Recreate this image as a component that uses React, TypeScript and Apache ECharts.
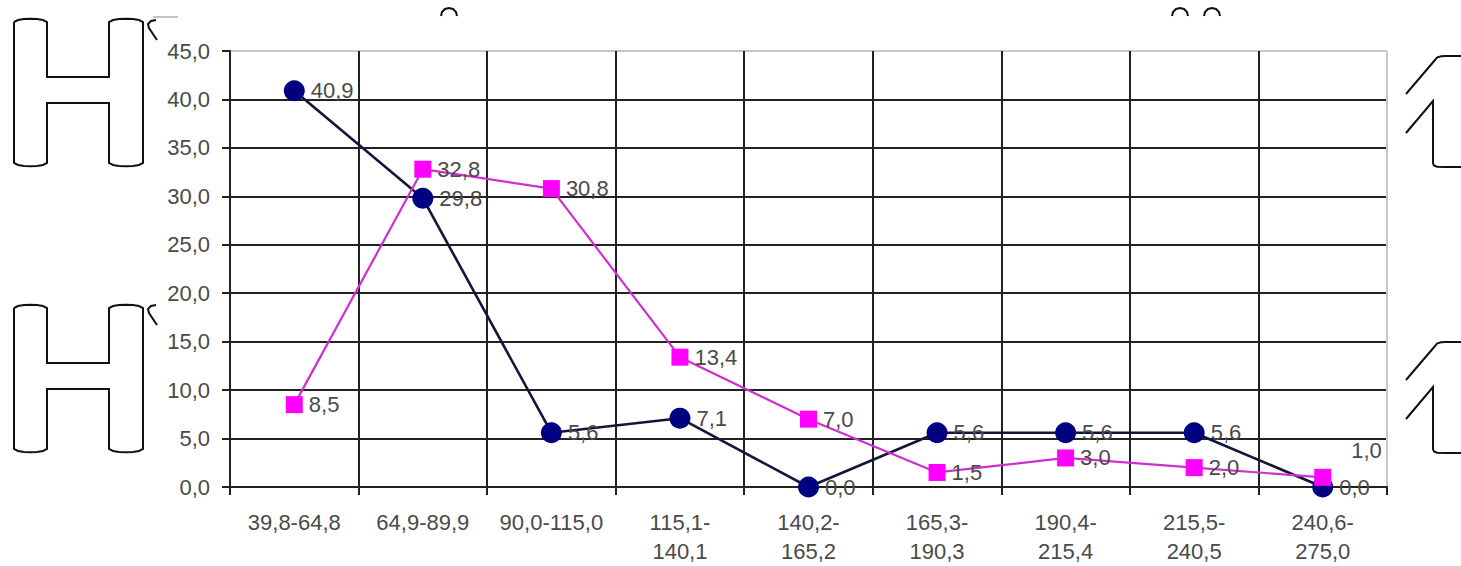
import React, { useEffect, useRef } from "react";
import * as echarts from "echarts";

// Class intervals (x axis) and percentage shares for the two groups
const categories = [
  "39,8-64,8",
  "64,9-89,9",
  "90,0-115,0",
  "115,1-\n140,1",
  "140,2-\n165,2",
  "165,3-\n190,3",
  "190,4-\n215,4",
  "215,5-\n240,5",
  "240,6-\n275,0",
];
const navyValues = [40.9, 29.8, 5.6, 7.1, 0.0, 5.6, 5.6, 5.6, 0.0];
const magentaValues = [8.5, 32.8, 30.8, 13.4, 7.0, 1.5, 3.0, 2.0, 1.0];
const yTicks = { min: 0, max: 45, step: 5 };

const fmt = (v: number) => v.toFixed(1).replace(".", ",");

// Outline glyphs around the plot, as point lists relative to their origin
const hGlyph: number[][] = [
  [0, 4], [4, 2], [10, 1], [16.5, 0.8], [23, 1], [29, 2], [33, 4],
  [33, 59], [95, 59], [95, 4],
  [99, 2], [105, 1], [112, 0.8], [119, 1], [125, 2], [129, 4],
  [129, 145],
  [125, 147], [119, 148], [112, 148.3], [105, 148], [99, 147], [95, 145],
  [95, 85], [33, 85], [33, 145],
  [29, 147], [23, 148], [16.5, 148.3], [10, 148], [4, 147], [0, 145],
  [0, 4],
];
const oneGlyphTop: number[][] = [
  [0, 38], [29, 4], [31, 1.5], [35, 0.3], [40, 0], [55, 0],
];
const oneGlyphStem: number[][] = [
  [0, 77], [27, 45], [27, 107], [28, 109.5], [31, 110.7], [39, 111], [55, 111],
];
const hookGlyph: number[][] = [[9, 2], [4, 3], [1, 6], [2, 10], [10, 22]];
const arcGlyph: number[][] = [
  [0, 8], [1, 4], [4, 1], [8, 0], [12, 1], [15, 4], [16, 8],
];

const shift = (pts: number[][], x: number, y: number) =>
  pts.map(([a, b]) => [a + x, b + y]);

const ink = { stroke: "#111", fill: "none", lineWidth: 2 };
const glyph = (pts: number[][], x: number, y: number) => ({
  type: "polyline",
  shape: { points: shift(pts, x, y) },
  style: ink,
  silent: true,
});

export default function App() {
  const ref = useRef<HTMLDivElement>(null);

  useEffect(() => {
    if (!ref.current) return;
    const chart = echarts.init(ref.current, null, { renderer: "svg" });
    const tickCount = (yTicks.max - yTicks.min) / yTicks.step + 1;
    const hColors = Array.from({ length: tickCount }, (_, i) =>
      i === tickCount - 1 ? "#c8c8c8" : "#222"
    );
    const vColors = Array.from({ length: categories.length + 1 }, (_, i) =>
      i === categories.length ? "#c8c8c8" : "#222"
    );
    const textStyle = {
      fontFamily: "Liberation Sans, Arial, sans-serif",
      fontSize: 22,
      color: "#4a4a4a",
    };

    chart.setOption({
      animation: false,
      backgroundColor: "#ffffff",
      grid: { left: 230, right: 74, top: 51, bottom: 77, containLabel: false },
      xAxis: {
        type: "category",
        data: categories,
        boundaryGap: true,
        axisLine: { show: true, lineStyle: { color: "#222", width: 2 } },
        axisTick: {
          show: true,
          interval: 0,
          length: 8,
          lineStyle: { color: "#222", width: 2 },
        },
        splitLine: {
          show: true,
          interval: 0,
          lineStyle: { color: vColors, width: 2 },
        },
        axisLabel: {
          interval: 0,
          margin: 21,
          lineHeight: 29,
          ...textStyle,
        },
      },
      yAxis: {
        type: "value",
        min: yTicks.min,
        max: yTicks.max,
        interval: yTicks.step,
        axisLine: { show: true, lineStyle: { color: "#222", width: 2 } },
        axisTick: { show: true, length: 8, lineStyle: { color: "#222", width: 2 } },
        splitLine: { show: true, lineStyle: { color: hColors, width: 2 } },
        axisLabel: {
          margin: 20,
          formatter: (v: number) => fmt(v),
          ...textStyle,
        },
      },
      series: [
        {
          type: "line",
          data: navyValues,
          symbol: "circle",
          symbolSize: 21,
          z: 3,
          itemStyle: { color: "#000080" },
          lineStyle: { color: "#15153a", width: 2.6 },
          label: {
            show: true,
            position: "right",
            distance: 6,
            formatter: (p: any) => fmt(p.value),
            ...textStyle,
          },
        },
        {
          type: "line",
          data: magentaValues.map((v, i) =>
            i === magentaValues.length - 1
              ? { value: v, label: { offset: [14, -27] } }
              : v
          ),
          symbol: "rect",
          symbolSize: 17,
          z: 4,
          itemStyle: { color: "#ff00ff" },
          lineStyle: { color: "#d02ed0", width: 2.2 },
          label: {
            show: true,
            position: "right",
            distance: 6,
            formatter: (p: any) => fmt(p.value),
            ...textStyle,
          },
        },
      ],
      graphic: {
        elements: [
          glyph(hGlyph, 14, 18),
          glyph(hGlyph, 14, 304),
          glyph(hookGlyph, 147, 18),
          glyph(hookGlyph, 147, 303),
          {
            type: "line",
            shape: { x1: 153, y1: 17, x2: 178, y2: 17 },
            style: { stroke: "#888", lineWidth: 1 },
            silent: true,
          },
          glyph(oneGlyphTop, 1406, 56),
          glyph(oneGlyphStem, 1406, 56),
          glyph(oneGlyphTop, 1406, 342),
          glyph(oneGlyphStem, 1406, 342),
          glyph(arcGlyph, 441, 8),
          glyph(arcGlyph, 1172, 8),
          glyph(arcGlyph, 1204, 8),
        ],
      },
    });

    return () => chart.dispose();
  }, []);

  return (
    <div
      ref={ref}
      style={{ position: "fixed", left: 0, top: 0, width: 1461, height: 566 }}
    />
  );
}
